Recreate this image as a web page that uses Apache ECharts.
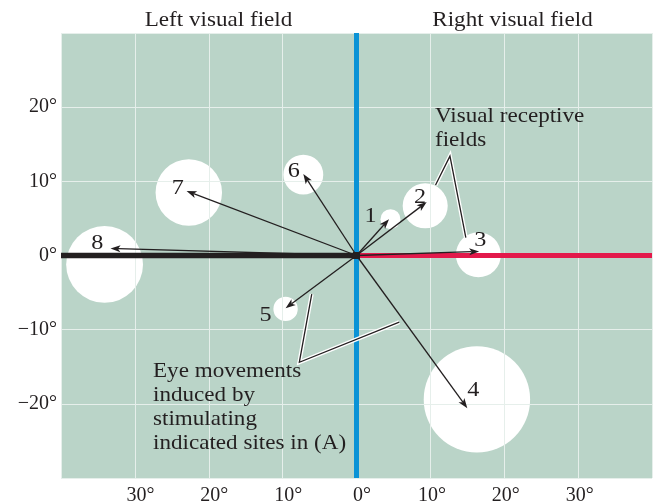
<!DOCTYPE html>
<html>
<head>
<meta charset="utf-8">
<script src="https://cdn.jsdelivr.net/npm/echarts@6/dist/echarts.min.js"></script>
<style>
  html, body { margin: 0; padding: 0; background: #fff; }
  #chart { width: 654px; height: 503px; }
</style>
</head>
<body>
<div id="chart"></div>
<script>
// Receptive fields (white discs) of stimulated sites, in degrees of visual angle
const fieldNames  = ['1', '2', '3', '4', '5', '6', '7', '8'];
const fieldX      = [4.6, 9.3, 16.5, 16.3, -9.6, -7.2, -22.7, -34.1];
const fieldY      = [4.9, 6.7, 0.1, -19.4, -7.2, 10.9, 8.5, -1.2];
const fieldRadius = [1.35, 3.05, 3.05, 7.2, 1.65, 2.7, 4.5, 5.2];

// End points of the evoked eye movements (all start at the fixation point)
const movementX = [4.4, 9.5, 16.6, 15.0, -9.6, -7.2, -23.0, -33.3];
const movementY = [4.9, 7.2, 0.55, -20.6, -7.1, 11.0, 8.7, 0.95];

// Where each site number is written
const numberX = [1.9, 8.6, 16.75, 15.8, -12.3, -8.5, -24.2, -35.1];
const numberY = [5.3, 7.8, 2.0, -18.2, -8.0, 11.4, 9.1, 1.6];

// Axis ticks
const xTicks = [-30, -20, -10, 0, 10, 20, 30];
const yTicks = [-20, -10, 0, 10, 20];

// Leader lines of the two annotations
const receptiveLeader = [[10.7, 9.5], [12.65, 13.4], [14.8, 2.4]];
const movementLeader  = [[-6.06, -5.2], [-7.74, -14.4], [5.79, -8.97]];

const FONT = 'Liberation Serif';
const INK = '#231f20';
const TEXT_FONT = '21px "' + FONT + '"';
const WIDEN = 1.1;   // the book face runs a little wider than Liberation Serif

const chart = echarts.init(document.getElementById('chart'), null, { renderer: 'canvas' });

function arrowItem(params, api) {
  const p0 = api.coord([0, 0]);
  const p1 = api.coord([api.value(0), api.value(1)]);
  const dx = p1[0] - p0[0], dy = p1[1] - p0[1];
  const len = Math.sqrt(dx * dx + dy * dy);
  const ux = dx / len, uy = dy / len;
  const nx = -uy, ny = ux;
  const headLen = 10, headHalf = 3.6;
  const bx = p1[0] - ux * headLen, by = p1[1] - uy * headLen;
  const nxp = p1[0] - ux * headLen * 0.75, nyp = p1[1] - uy * headLen * 0.75;
  return {
    type: 'group',
    children: [
      { type: 'line', shape: { x1: p0[0], y1: p0[1], x2: nxp, y2: nyp },
        style: { stroke: INK, lineWidth: 1.3 } },
      { type: 'polygon',
        shape: { points: [p1, [bx + nx * headHalf, by + ny * headHalf], [nxp, nyp], [bx - nx * headHalf, by - ny * headHalf]] },
        style: { fill: INK } }
    ]
  };
}

function leaderItem(params, api) {
  const pts = params.dataIndex === 0 ? receptiveLeader : movementLeader;
  const px = pts.map(p => api.coord(p));
  return {
    type: 'group',
    children: [
      { type: 'polyline', shape: { points: px }, style: { stroke: '#fff', lineWidth: 4, fill: null, lineJoin: 'miter' } },
      { type: 'polyline', shape: { points: px }, style: { stroke: INK, lineWidth: 1.3, fill: null, lineJoin: 'miter' } }
    ]
  };
}

function textBlock(text, x, y, align, vAlign) {
  return {
    type: 'text', x: x, y: y, scaleX: WIDEN, z: 10,
    style: { text: text, fill: INK, font: TEXT_FONT, lineHeight: 24.2, align: align, verticalAlign: vAlign }
  };
}

const option = {
  animation: false,
  backgroundColor: '#fff',
  textStyle: { fontFamily: FONT },
  grid: {
    left: 61, right: 2, top: 33, bottom: 25,
    outerBoundsMode: 'none',
    show: true, backgroundColor: '#bad4c8', borderWidth: 0
  },
  xAxis: {
    type: 'value', min: -40, max: 40, interval: 10, z: 3,
    axisLine: { show: false }, axisTick: { show: false },
    splitLine: { show: true, lineStyle: { color: '#e6efeb', width: 1 } },
    axisLabel: {
      margin: 8, color: INK, fontFamily: FONT, fontSize: 20,
      // left-field and centre labels sit a little right of their grid line
      formatter: v => xTicks.indexOf(v) < 0 ? '' : (v <= 0 ? '{l|' : '{r|') + Math.abs(v) + '°}',
      rich: {
        l: { fontFamily: FONT, fontSize: 20, color: INK, padding: [0, 0, 0, 11] },
        r: { fontFamily: FONT, fontSize: 20, color: INK, padding: [0, 0, 0, 3] }
      }
    }
  },
  yAxis: {
    type: 'value', min: -30, max: 30, interval: 10, z: 3,
    axisLine: { show: false }, axisTick: { show: false },
    splitLine: { show: true, lineStyle: { color: '#e6efeb', width: 1 } },
    axisLabel: {
      margin: 4, color: INK, fontFamily: FONT, fontSize: 20,
      formatter: v => yTicks.indexOf(v) >= 0 ? (v < 0 ? '\u2212' + (-v) : v) + '°' : ''
    }
  },
  graphic: [
    textBlock('Left visual field', 218.5, 20, 'center', 'middle'),
    textBlock('Right visual field', 512.5, 20, 'center', 'middle'),
    textBlock('Visual receptive\nfields', 435, 104, 'left', 'top'),
    textBlock('Eye movements\ninduced by\nstimulating\nindicated sites in (A)', 153, 359, 'left', 'top')
  ],
  series: [
    {
      type: 'custom', name: 'Receptive fields', z: 2, silent: true, clip: true,
      data: fieldX.map((x, i) => [x, fieldY[i], fieldRadius[i]]),
      encode: { x: 0, y: 1 },
      renderItem: (params, api) => {
        const c = api.coord([api.value(0), api.value(1)]);
        const r = api.size([api.value(2), 0])[0];
        return { type: 'circle', shape: { cx: c[0], cy: c[1], r: r }, style: { fill: '#fff' } };
      }
    },
    {
      type: 'line', name: 'Vertical meridian', z: 4, silent: true, showSymbol: false,
      data: [[0, -30], [0, 30]],
      lineStyle: { color: '#0b93d6', width: 5 }
    },
    {
      type: 'line', name: 'Left horizontal meridian', z: 5, silent: true, showSymbol: false,
      data: [[-40, 0], [0, 0]],
      lineStyle: { color: INK, width: 5.5 }
    },
    {
      type: 'line', name: 'Right horizontal meridian', z: 5, silent: true, showSymbol: false,
      data: [[0, 0], [40, 0]],
      lineStyle: { color: '#e3194b', width: 5 }
    },
    {
      type: 'custom', name: 'Leaders', z: 6, silent: true,
      data: [[0, 0], [0, 0]],
      renderItem: leaderItem
    },
    {
      type: 'custom', name: 'Eye movements', z: 7, silent: true,
      data: movementX.map((x, i) => [x, movementY[i]]),
      encode: { x: 0, y: 1 },
      renderItem: arrowItem
    },
    {
      type: 'scatter', name: 'Fixation', z: 8, silent: true,
      data: [[0, 0]], symbol: 'rect', symbolSize: 7,
      itemStyle: { color: INK, opacity: 1 }
    },
    {
      type: 'custom', name: 'Site numbers', z: 9, silent: true,
      data: numberX.map((x, i) => [x, numberY[i]]),
      encode: { x: 0, y: 1 },
      renderItem: (params, api) => {
        const c = api.coord([api.value(0), api.value(1)]);
        return {
          type: 'text', x: c[0], y: c[1], scaleX: WIDEN,
          style: { text: fieldNames[params.dataIndex], fill: INK, font: '22px "' + FONT + '"', align: 'center', verticalAlign: 'middle' }
        };
      }
    }
  ]
};

chart.setOption(option);
</script>
</body>
</html>
